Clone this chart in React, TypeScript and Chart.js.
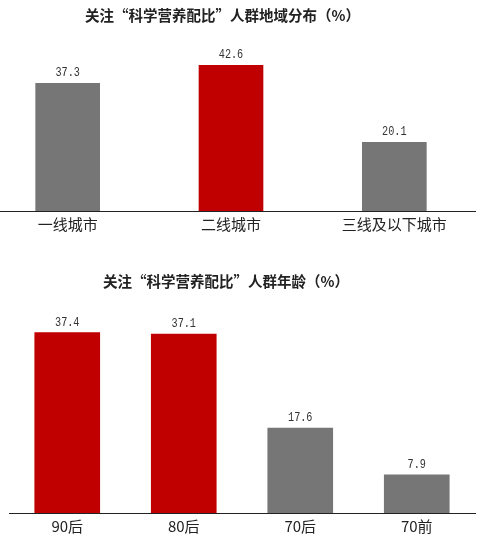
import { useEffect, useRef } from "react";
import { Chart, registerables } from "chart.js";

Chart.register(...registerables);

const regionTitle = "关注“科学营养配比”人群地域分布（%）";
const regionCategories = ["一线城市", "二线城市", "三线及以下城市"];
const regionValues = [37.3, 42.6, 20.1];

const ageTitle = "关注“科学营养配比”人群年龄（%）";
const ageCategories = ["90后", "80后", "70后", "70前"];
const ageValues = [37.4, 37.1, 17.6, 7.9];

const RED = "#C00000";
const GRAY = "#767676";

const valueLabelPlugin = {
  id: "valueLabels",
  afterDatasetsDraw(chart: any) {
    const ctx = chart.ctx;
    chart.data.datasets.forEach((ds: any, di: number) => {
      const meta = chart.getDatasetMeta(di);
      meta.data.forEach((bar: any, i: number) => {
        ctx.save();
        ctx.font = "12px 'Liberation Mono', monospace";
        ctx.fillStyle = "#333";
        ctx.textAlign = "center";
        ctx.textBaseline = "alphabetic";
        ctx.translate(bar.x, bar.y - 7);
        ctx.scale(0.85, 1);
        ctx.fillText(Number(ds.data[i]).toFixed(1), 0, 0);
        ctx.restore();
      });
    });
  },
};

function makeConfig(
  labels: string[],
  values: number[],
  colors: string[],
  yMax: number,
  padding: any,
  thickness: number
): any {
  return {
    type: "bar",
    data: {
      labels,
      datasets: [
        {
          data: values,
          backgroundColor: colors,
          borderWidth: 0,
          barThickness: thickness,
        },
      ],
    },
    options: {
      animation: false,
      responsive: false,
      maintainAspectRatio: false,
      layout: { padding },
      plugins: {
        legend: { display: false },
        tooltip: { enabled: false },
        title: { display: false },
      },
      scales: {
        x: {
          grid: { display: false, drawTicks: false },
          border: { display: true, color: "#222", width: 1 },
          ticks: {
            autoSkip: false,
            maxRotation: 0,
            padding: 4,
            color: "#222",
            font: { family: "'Noto Sans CJK SC', sans-serif", size: 15 },
          },
        },
        y: {
          display: false,
          min: 0,
          max: yMax,
        },
      },
    },
    plugins: [valueLabelPlugin],
  };
}

function BarChart(props: {
  config: any;
  left: number;
  top: number;
  width: number;
  height: number;
}) {
  const ref = useRef<HTMLCanvasElement | null>(null);
  useEffect(() => {
    if (!ref.current) return;
    const chart = new Chart(ref.current, props.config);
    return () => chart.destroy();
  }, []);
  return (
    <canvas
      ref={ref}
      width={props.width}
      height={props.height}
      style={{
        position: "absolute",
        left: props.left,
        top: props.top,
        width: props.width,
        height: props.height,
      }}
    />
  );
}

const titleStyle: any = {
  position: "absolute",
  left: 0,
  width: 445,
  textAlign: "center",
  fontFamily: "'Noto Sans CJK SC', sans-serif",
  fontWeight: 700,
  fontSize: 14.5,
  lineHeight: "20px",
  color: "#222",
  whiteSpace: "nowrap",
};

export default function App() {
  const regionColors = [GRAY, RED, GRAY];
  const ageColors = [RED, RED, GRAY, GRAY];
  return (
    <div
      style={{
        position: "absolute",
        left: 0,
        top: 0,
        width: 478,
        height: 542,
        overflow: "hidden",
        background: "#fff",
      }}
    >
      <BarChart
        config={makeConfig(
          regionCategories,
          regionValues,
          regionColors,
          50,
          { top: 40, bottom: 3, left: 0, right: 0 },
          64
        )}
        left={-14}
        top={0}
        width={490}
        height={240}
      />
      <BarChart
        config={makeConfig(
          ageCategories,
          ageValues,
          ageColors,
          40,
          { top: 40, bottom: 3, left: 9, right: 3 },
          65
        )}
        left={0}
        top={280}
        width={478}
        height={262}
      />
      <div style={{ ...titleStyle, top: 5 }}>{regionTitle}</div>
      <div style={{ ...titleStyle, top: 271, width: 452 }}>{ageTitle}</div>
    </div>
  );
}
